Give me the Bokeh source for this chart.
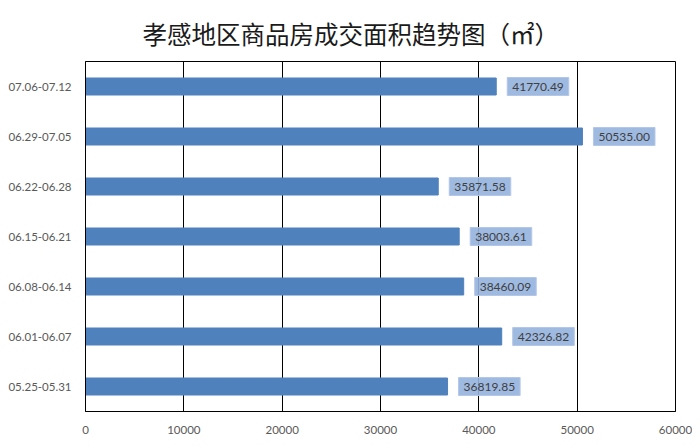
from bokeh.plotting import figure
from bokeh.models import FactorRange, Range1d, ColumnDataSource, FixedTicker
from bokeh.core.properties import value
from bokeh.embed import file_html
from bokeh.resources import INLINE

weeks = ["05.25-05.31", "06.01-06.07", "06.08-06.14", "06.15-06.21",
         "06.22-06.28", "06.29-07.05", "07.06-07.12"]
areas = [36819.85, 42326.82, 38460.09, 38003.61, 35871.58, 50535.00, 41770.49]
x_ticks = [0, 10000, 20000, 30000, 40000, 50000, 60000]
title_text = "孝感地区商品房成交面积趋势图（㎡）"

src = ColumnDataSource(dict(week=weeks, area=areas,
                            label=["%.2f" % a for a in areas]))

p = figure(width=692, height=440, output_backend="svg", toolbar_location=None,
           y_range=FactorRange(factors=weeks, range_padding=0),
           x_range=Range1d(0, 60000),
           min_border_left=85, min_border_right=17, min_border_top=61,
           min_border_bottom=29, title=title_text)

p.title.text_font = "Noto Sans CJK SC"
p.title.text_font_size = "24.5px"
p.title.text_font_style = "normal"
p.title.text_color = "#1a1a1a"
p.title.align = "left"
p.title.offset = 57
p.title.standoff = 22

p.hbar(y="week", right="area", left=0, height=0.34, source=src,
       fill_color="#4f81bd", line_color="#4f81bd")

p.text(x="area", y="week", text="label", source=src,
       x_offset=11, text_align="left", text_baseline="middle",
       text_font=value("Lato"), text_font_size="12px", text_color="#404040",
       background_fill_color="#95b3de", background_fill_alpha=0.9,
       border_line_color="#b4c7e7", border_line_alpha=1.0,
       padding=5)

p.xaxis.ticker = FixedTicker(ticks=x_ticks)
p.xgrid.ticker = FixedTicker(ticks=x_ticks)
p.xgrid.grid_line_color = "#000000"
p.xgrid.grid_line_width = 1
p.ygrid.grid_line_color = None

for ax in (p.xaxis, p.yaxis):
    ax.major_tick_line_color = None
    ax.minor_tick_line_color = None
    ax.major_label_text_font = "Lato"
    ax.major_label_text_font_size = "11.5px"
    ax.major_label_text_color = "#595959"
p.xaxis.axis_line_color = "#000000"
p.yaxis.axis_line_color = "#000000"
p.xaxis.major_label_standoff = 8
p.yaxis.major_label_standoff = 8

p.outline_line_color = "#000000"
p.outline_line_width = 1
p.background_fill_color = "#ffffff"
p.border_fill_color = "#ffffff"

open("out.html", "w").write(file_html(p, INLINE))
